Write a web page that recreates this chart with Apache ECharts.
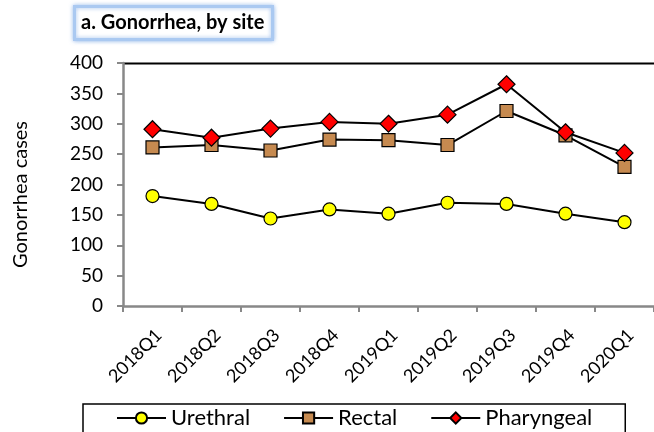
<!DOCTYPE html>
<html lang="en">
<head>
    <meta charset="UTF-8">
    <title>Gonorrhea, by site</title>
    <script src="https://cdn.jsdelivr.net/npm/echarts@6.0.0/dist/echarts.min.js"></script>
    <style>
        html, body { margin: 0; padding: 0; background: #fff; }
    </style>
</head>
<body>
    <div id="main" style="width: 654px;height:432px;"></div>

    <script>
        // quarters on the x axis
        var quarters = ['2018Q1', '2018Q2', '2018Q3', '2018Q4', '2019Q1', '2019Q2', '2019Q3', '2019Q4', '2020Q1'];

        // cases
        var urethral = [181, 168, 144, 159, 152, 170, 168, 152, 138];
        var rectal = [261, 265, 256, 274, 273, 265, 321, 281, 229];
        var pharyngeal = [291, 277, 292, 303, 300, 315, 365, 286, 252];

        var yTicks = [0, 50, 100, 150, 200, 250, 300, 350, 400];

        var font = 'Lato, "Liberation Sans", sans-serif';

        function lineSeries(name, data, symbol, size, color) {
            return {
                name: name,
                type: 'line',
                data: data,
                symbol: symbol,
                symbolSize: size,
                showAllSymbol: true,
                lineStyle: { color: '#000', width: 2 },
                itemStyle: { color: color, borderColor: '#000', borderWidth: 1.2 },
                emphasis: { disabled: true }
            };
        }

        var myChart = echarts.init(document.getElementById('main'));
        var option = {
            animation: false,
            textStyle: { fontFamily: font },
            title: {
                text: 'a. Gonorrhea, by site',
                left: 74,
                top: 6,
                padding: [7, 8, 7, 7],
                backgroundColor: '#fff',
                borderColor: '#aac9f1',
                borderWidth: 3,
                shadowColor: 'rgba(120,165,230,0.7)',
                shadowBlur: 4,
                textStyle: { fontFamily: font, fontSize: 20, fontWeight: 'bold', color: '#000' }
            },
            legend: {
                data: ['Urethral', 'Rectal', 'Pharyngeal'],
                left: 83,
                top: 404,
                padding: [3, 33, 12, 33],
                itemGap: 33,
                itemWidth: 49,
                itemHeight: 14,
                borderColor: '#000',
                borderWidth: 1.5,
                textStyle: { fontFamily: font, fontSize: 22, color: '#000' }
            },
            grid: {
                left: 123,
                top: 63,
                width: 540,
                height: 243
            },
            xAxis: {
                type: 'category',
                data: quarters,
                boundaryGap: true,
                axisLine: { lineStyle: { color: '#888', width: 2.5 } },
                axisTick: { show: true, length: 6, lineStyle: { color: '#888', width: 2 } },
                axisLabel: {
                    rotate: 45, margin: 20, verticalAlign: 'top',
                    fontSize: 18, color: '#000', fontFamily: font
                }
            },
            yAxis: {
                type: 'value',
                min: yTicks[0],
                max: yTicks[yTicks.length - 1],
                interval: 50,
                name: 'Gonorrhea cases',
                nameLocation: 'middle',
                nameGap: 92,
                nameTextStyle: { fontSize: 20, color: '#000', fontFamily: font, padding: [0, 20, 0, 0] },
                axisLine: { show: true, lineStyle: { color: '#888', width: 2.5 } },
                axisTick: { show: true, length: 6, lineStyle: { color: '#888', width: 2 } },
                axisLabel: { margin: 20, fontSize: 19, color: '#000', fontFamily: font },
                splitLine: { show: false }
            },
            graphic: [{
                type: 'line',
                shape: { x1: 123, y1: 63.5, x2: 654, y2: 63.5 },
                style: { stroke: '#000', lineWidth: 2 }
            }],
            series: [
                lineSeries('Urethral', urethral, 'circle', 13, '#ffff00'),
                lineSeries('Rectal', rectal, 'rect', 13, '#c68a50'),
                lineSeries('Pharyngeal', pharyngeal, 'diamond', 17, '#ff0000')
            ]
        };

        myChart.setOption(option);
    </script>
</body>
</html>
